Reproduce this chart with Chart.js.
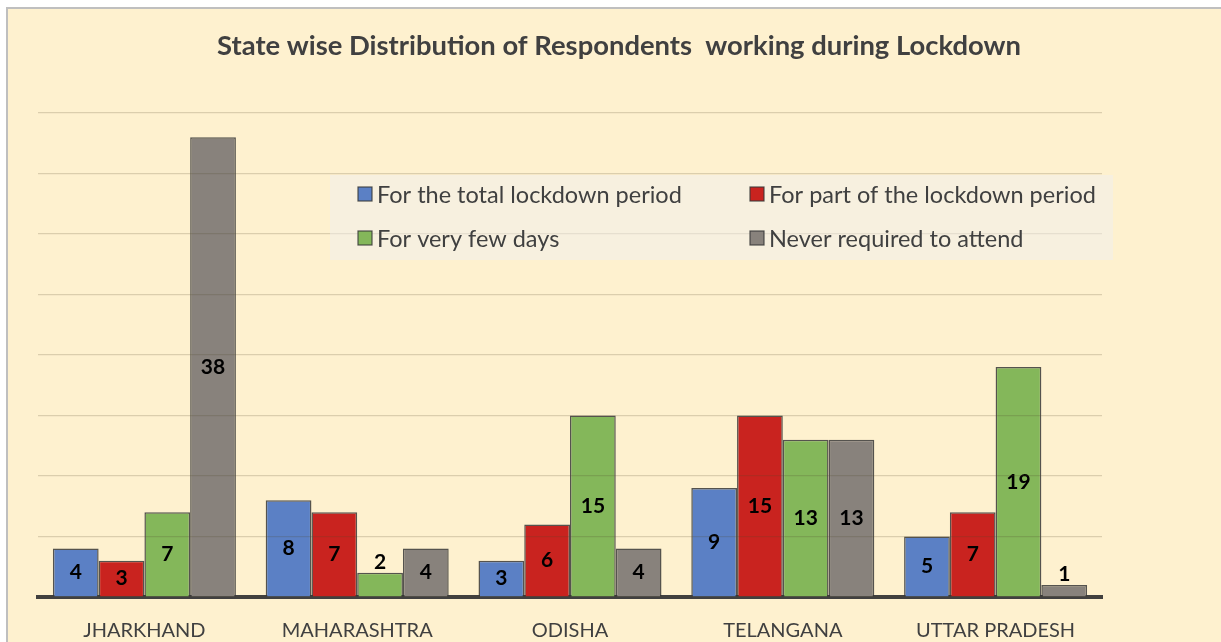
<!DOCTYPE html>
<html>
<head>
<meta charset="utf-8">
<script src="https://cdn.jsdelivr.net/npm/chart.js@4"></script>
<style>
  html, body { margin: 0; padding: 0; background: #ffffff; }
  #wrap {
    position: absolute; left: 6px; top: 7px;
    width: 1215px; height: 635px;
    background: #fef1cf;
    border-left: 2px solid #bfbfbf; border-top: 2px solid #bfbfbf;
  }
  canvas { display: block; }
</style>
</head>
<body>
<div id="wrap"><canvas id="chart" width="1215" height="635"></canvas></div>
<script>
const states = ['JHARKHAND', 'MAHARASHTRA', 'ODISHA', 'TELANGANA', 'UTTAR PRADESH'];
const seriesNames = ['For the total lockdown period', 'For part of the lockdown period', 'For very few days', 'Never required to attend'];
const totalPeriod = [4, 8, 3, 9, 5];
const partPeriod = [3, 7, 6, 15, 7];
const fewDays = [7, 2, 15, 13, 19];
const neverAttend = [38, 4, 4, 13, 1];
const yTicks = [0, 5, 10, 15, 20, 25, 30, 35, 40];
const chartTitle = 'State wise Distribution of Respondents  working during Lockdown';

const colors = ['#5b80c5', '#c9231f', '#84b75a', '#88827c'];
const fontFamily = 'Lato, "Open Sans", sans-serif';

const datasets = [totalPeriod, partPeriod, fewDays, neverAttend].map(function (vals, i) {
    return {
        label: seriesNames[i],
        data: vals,
        backgroundColor: colors[i],
        borderColor: 'rgba(55,55,55,0.85)',
        borderWidth: 1.5,
        borderSkipped: 'bottom'
    };
});

// title centred on the whole picture, not on the plot area
const pageTitle = {
    id: 'pageTitle',
    afterDraw(chart) {
        const ctx = chart.ctx;
        ctx.save();
        ctx.font = 'bold 27.4px ' + fontFamily;
        ctx.fillStyle = '#404040';
        ctx.textAlign = 'center';
        ctx.textBaseline = 'middle';
        ctx.fillText(chartTitle, 611, 37);
        ctx.restore();
    }
};

// value labels: centred in the bar, above it when the bar is too short
const barLabels = {
    id: 'barLabels',
    afterDatasetsDraw(chart) {
        const ctx = chart.ctx;
        ctx.save();
        ctx.font = 'bold 21px ' + fontFamily;
        ctx.fillStyle = '#000000';
        ctx.textAlign = 'center';
        ctx.textBaseline = 'middle';
        chart.data.datasets.forEach(function (ds, i) {
            chart.getDatasetMeta(i).data.forEach(function (bar, j) {
                const h = bar.base - bar.y;
                const y = h < 24 ? bar.y - 11 : bar.y + h / 2;
                ctx.fillText(String(ds.data[j]), bar.x, y);
            });
        });
        ctx.restore();
    }
};

// legend box drawn inside the plot area, two columns
const insideLegend = {
    id: 'insideLegend',
    afterDraw(chart) {
        const ctx = chart.ctx;
        ctx.save();
        ctx.fillStyle = 'rgba(240,240,240,0.5)';
        ctx.fillRect(322, 166, 783, 85);
        ctx.font = '23.5px ' + fontFamily;
        ctx.textBaseline = 'middle';
        ctx.textAlign = 'left';
        chart.data.datasets.forEach(function (ds, i) {
            const col = i % 2, row = Math.floor(i / 2);
            const x = col === 0 ? 350 : 742;
            const y = row === 0 ? 185 : 229;
            ctx.fillStyle = ds.backgroundColor;
            ctx.fillRect(x, y - 7, 14, 14);
            ctx.strokeStyle = 'rgba(55,55,55,0.85)';
            ctx.lineWidth = 1.2;
            ctx.strokeRect(x, y - 7, 14, 14);
            ctx.fillStyle = '#404040';
            ctx.fillText(ds.label, x + 19, y + 1);
        });
        ctx.restore();
    }
};

new Chart(document.getElementById('chart').getContext('2d'), {
    type: 'bar',
    data: { labels: states, datasets: datasets },
    plugins: [barLabels, insideLegend, pageTitle],
    options: {
        responsive: false,
        animation: false,
        layout: { padding: { left: 30, right: 121, top: 104, bottom: 4 } },
        categoryPercentage: 0.86,
        barPercentage: 1.0,
        plugins: {
            legend: { display: false },
            tooltip: { enabled: false },
            title: { display: false }
        },
        scales: {
            x: {
                grid: { display: false },
                border: { display: true, color: '#404040', width: 4 },
                ticks: { color: '#404040', font: { family: fontFamily, size: 20 }, padding: 14 },
                afterFit: function (scale) { scale.height = 43; }
            },
            y: {
                min: 0,
                max: 40,
                afterBuildTicks: function (scale) {
                    scale.ticks = yTicks.map(function (v) { return { value: v }; });
                },
                ticks: { display: false },
                border: { display: false },
                grid: { color: 'rgba(80,70,40,0.2)', lineWidth: 1.2, drawTicks: false, z: 1 }
            }
        }
    }
});
</script>
</body>
</html>
